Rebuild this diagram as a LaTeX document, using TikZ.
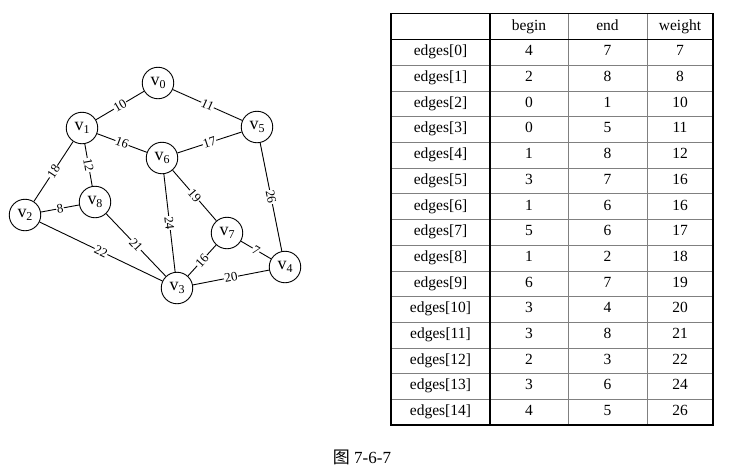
\documentclass[tikz,border=0pt]{standalone}
\usepackage{fontspec}
\setmainfont{Liberation Serif}
\newfontfamily\cjk{Noto Sans CJK SC}
\begin{document}
\begin{tikzpicture}[x=1pt,y=-1pt,
  vtx/.style={draw,circle,minimum size=31.5pt,inner sep=0pt,line width=0.9pt,font=\fontsize{18}{18}\selectfont},
  edge/.style={line width=0.9pt},
  wl/.style={midway,sloped,fill=white,inner sep=0.5pt,font=\fontsize{13}{13}\selectfont},
  cell/.style={font=\fontsize{15.5}{15.5}\selectfont,inner sep=0pt,text height=10.5pt,text depth=3.5pt},
  thin/.style={line width=0.6pt,draw=black!50},
  thick/.style={line width=1.7pt}]
\useasboundingbox (0,0) rectangle (732,475);
\newcommand{\vl}[1]{v\raisebox{-0.35ex}{\fontsize{12}{12}\selectfont #1}}
% graph vertices
\node[vtx] (v0) at (158,83) {\vl{0}};
\node[vtx] (v1) at (82,128) {\vl{1}};
\node[vtx] (v5) at (257,127) {\vl{5}};
\node[vtx] (v6) at (162,158) {\vl{6}};
\node[vtx] (v2) at (25,215) {\vl{2}};
\node[vtx] (v8) at (95,202) {\vl{8}};
\node[vtx] (v7) at (227,233) {\vl{7}};
\node[vtx] (v4) at (285,267) {\vl{4}};
\node[vtx] (v3) at (177,288) {\vl{3}};
% edges
\draw[edge] (v0) -- node[wl]{10} (v1);
\draw[edge] (v0) -- node[wl]{11} (v5);
\draw[edge] (v1) -- node[wl]{16} (v6);
\draw[edge] (v5) -- node[wl]{17} (v6);
\draw[edge] (v1) -- node[wl]{12} (v8);
\draw[edge] (v1) -- node[wl]{18} (v2);
\draw[edge] (v2) -- node[wl]{8} (v8);
\draw[edge] (v2) -- node[wl]{22} (v3);
\draw[edge] (v8) -- node[wl]{21} (v3);
\draw[edge] (v6) -- node[wl]{24} (v3);
\draw[edge] (v6) -- node[wl]{19} (v7);
\draw[edge] (v7) -- node[wl]{16} (v3);
\draw[edge] (v7) -- node[wl]{7} (v4);
\draw[edge] (v3) -- node[wl]{20} (v4);
\draw[edge] (v5) -- node[wl]{26} (v4);
% table
\def\tl{391}\def\tr{713}\def\tt{13.5}\def\th{39.5}\def\rh{25.7}
\foreach \i in {1,...,14}{
  \draw[thin] (\tl,\th+\i*\rh) -- (\tr,\th+\i*\rh);
}
\draw[thin] (568,\tt) -- (568,\th+15*\rh);
\draw[thin] (647,\tt) -- (647,\th+15*\rh);
\draw[thick] (490,\tt) -- (490,\th+15*\rh);
\draw[thick] (\tl,\th) -- (\tr,\th);
\draw[thick] (\tl,\tt) rectangle (\tr,\th+15*\rh);
\node[cell] (hb) at (529,26.5) {begin};
\node[cell] (he) at (607.5,26.5) {end};
\node[cell] (hw) at (680,26.5) {weight};
\foreach \i/\b/\e/\w in {0/4/7/7,1/2/8/8,2/0/1/10,3/0/5/11,4/1/8/12,5/3/7/16,6/1/6/16,7/5/6/17,8/1/2/18,9/6/7/19,10/3/4/20,11/3/8/21,12/2/3/22,13/3/6/24,14/4/5/26}{
  \node[cell] (r\i) at (440.5,\th+\i*\rh+0.5*\rh) {edges[\i]};
  \node[cell] (b\i) at (529,\th+\i*\rh+0.5*\rh) {\b};
  \node[cell] (e\i) at (607.5,\th+\i*\rh+0.5*\rh) {\e};
  \node[cell] (w\i) at (680,\th+\i*\rh+0.5*\rh) {\w};
}
% caption
\node[font=\fontsize{17}{17}\selectfont] (cap) at (362,457) {{\cjk 图} 7-6-7};
\end{tikzpicture}
\end{document}
